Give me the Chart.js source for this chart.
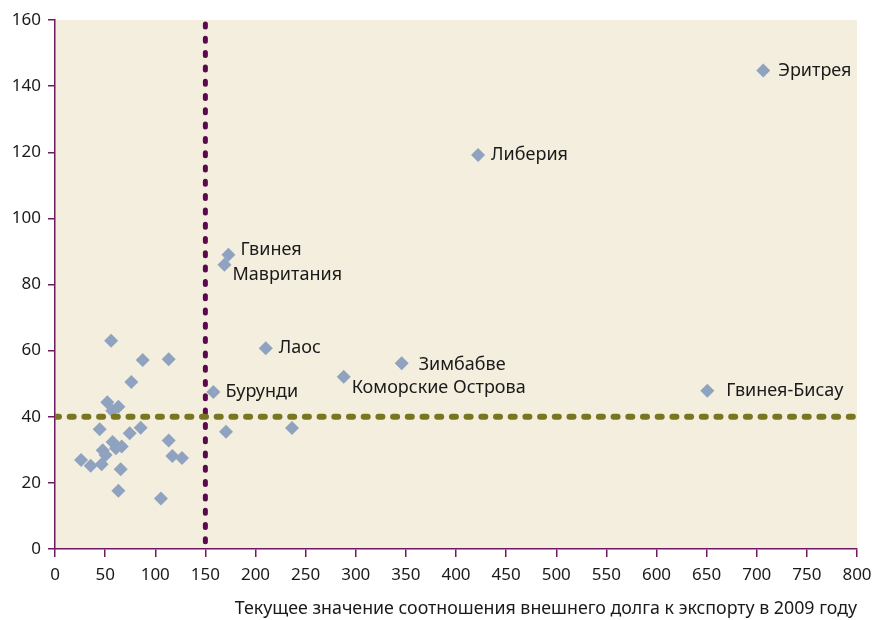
<!DOCTYPE html>
<html>
<head>
<meta charset="utf-8">
<script src="https://cdn.jsdelivr.net/npm/chart.js@4/dist/chart.umd.min.js"></script>
<style>
  html, body { margin: 0; padding: 0; background: #fff; }
  #wrap { width: 874px; height: 620px; }
</style>
</head>
<body>
<div id="wrap"><canvas id="graph"></canvas></div>
<script>
// debt / exports ratio 2009 (x) vs second indicator (y)
var xValues = [56, 87.5, 113.4, 76.1, 52.2, 63.2, 57.2, 44.6, 74.5, 85.5, 170.6, 113.4, 57.5, 66.5,
  60.8, 47.6, 50.5, 26, 35.6, 46.5, 117, 126.7, 65.5, 63.2, 105.7, 236.4,
  158, 173, 169, 210.2, 288, 345.8, 422, 706.5, 650.7];
var yValues = [63, 57.2, 57.4, 50.5, 44.4, 43, 41.8, 36.2, 35, 36.7, 35.5, 32.8, 32.4, 31,
  30.5, 29.9, 28.4, 26.9, 25.2, 25.6, 28.1, 27.5, 24.1, 17.6, 15.3, 36.6,
  47.5, 89, 86, 60.7, 52.1, 56.2, 119.2, 144.7, 47.9];
var pointNames = ["", "", "", "", "", "", "", "", "", "", "", "", "", "",
  "", "", "", "", "", "", "", "", "", "", "", "",
  "Бурунди", "Гвинея", "Мавритания", "Лаос", "Коморские Острова", "Зимбабве", "Либерия", "Эритрея", "Гвинея-Бисау"];
// label offsets in pixels from the marker [dx, dy]
var labelOffsets = {
  "Бурунди": [12, 0], "Гвинея": [12, -5], "Мавритания": [8, 10], "Лаос": [13, 0],
  "Коморские Острова": [8, 11], "Зимбабве": [17, 2], "Либерия": [13, 0],
  "Эритрея": [15, 0], "Гвинея-Бисау": [19, 0]
};
var xTicks = [0, 50, 100, 150, 200, 250, 300, 350, 400, 450, 500, 550, 600, 650, 700, 750, 800];
var yTicks = [0, 20, 40, 60, 80, 100, 120, 140, 160];
var xThreshold = 150;
var yThreshold = 40;
var xTitle = "Текущее значение соотношения внешнего долга к экспорту в 2009 году";

var FONT = "'Noto Sans', sans-serif";
var AXIS_COLOR = "#6e1a63";

var points = xValues.map(function (x, i) { return { x: x, y: yValues[i] }; });

var plotBackground = {
  id: "plotBackground",
  beforeDraw: function (chart) {
    var a = chart.chartArea, ctx = chart.ctx;
    ctx.save();
    ctx.fillStyle = "#f3eedd";
    ctx.fillRect(a.left, a.top, a.right - a.left, a.bottom - a.top);
    ctx.restore();
  }
};

var pointLabels = {
  id: "pointLabels",
  afterDatasetsDraw: function (chart) {
    var ctx = chart.ctx, xs = chart.scales.x, ys = chart.scales.y;
    ctx.save();
    ctx.font = "18px " + FONT;
    ctx.fillStyle = "#1a1a1a";
    ctx.textBaseline = "middle";
    ctx.textAlign = "left";
    pointNames.forEach(function (name, i) {
      if (!name) return;
      var off = labelOffsets[name] || [12, 0];
      ctx.fillText(name, xs.getPixelForValue(xValues[i]) + off[0], ys.getPixelForValue(yValues[i]) + off[1]);
    });
    ctx.restore();
  }
};

new Chart(document.getElementById("graph"), {
  type: "scatter",
  data: {
    datasets: [
      {
        label: "v",
        data: [{ x: xThreshold, y: 160 }, { x: xThreshold, y: 0 }],
        showLine: true,
        borderColor: "#5a0a4c",
        borderWidth: 5,
        borderDash: [3, 11.3],
        borderDashOffset: -4,
        borderCapStyle: "round",
        pointRadius: 0,
        order: 1
      },
      {
        label: "h",
        data: [{ x: 0, y: yThreshold }, { x: 800, y: yThreshold }],
        showLine: true,
        borderColor: "#7a7620",
        borderWidth: 6,
        borderDash: [4, 10.7],
        borderCapStyle: "round",
        pointRadius: 0,
        order: 0
      },
      {
        label: "countries",
        data: points,
        pointStyle: "rectRot",
        pointRadius: 7,
        pointHoverRadius: 7,
        pointBorderWidth: 0,
        backgroundColor: "#8fa2bf",
        borderColor: "#8fa2bf",
        order: 2
      }
    ]
  },
  options: {
    responsive: true,
    maintainAspectRatio: false,
    animation: false,
    layout: { padding: { top: 20, right: 17, left: 0, bottom: 0 } },
    plugins: {
      legend: { display: false },
      tooltip: { enabled: false }
    },
    scales: {
      x: {
        type: "linear",
        min: 0,
        max: 800,
        afterBuildTicks: function (s) { s.ticks = xTicks.map(function (v) { return { value: v }; }); },
        grid: { drawOnChartArea: false, drawTicks: true, tickLength: 8, color: AXIS_COLOR, lineWidth: 1.5 },
        border: { color: AXIS_COLOR, width: 1.5 },
        ticks: { color: "#1a1a1a", font: { family: FONT, size: 17 }, padding: 8, maxRotation: 0, autoSkip: false },
        title: { display: true, text: xTitle, align: "end", color: "#1a1a1a", font: { family: FONT, size: 17.8 }, padding: { top: 6, bottom: 0 } },
        afterFit: function (s) { s.height = 71; s.paddingLeft = 0; s.paddingRight = 0; }
      },
      y: {
        type: "linear",
        min: 0,
        max: 160,
        afterBuildTicks: function (s) { s.ticks = yTicks.map(function (v) { return { value: v }; }); },
        grid: { drawOnChartArea: false, drawTicks: true, tickLength: 7, color: AXIS_COLOR, lineWidth: 1.5 },
        border: { color: AXIS_COLOR, width: 1.5 },
        ticks: { color: "#1a1a1a", font: { family: FONT, size: 17 }, padding: 7 },
        afterFit: function (s) { s.width = 55; s.paddingTop = 0; s.paddingBottom = 0; }
      }
    }
  },
  plugins: [plotBackground, pointLabels]
});
</script>
</body>
</html>
